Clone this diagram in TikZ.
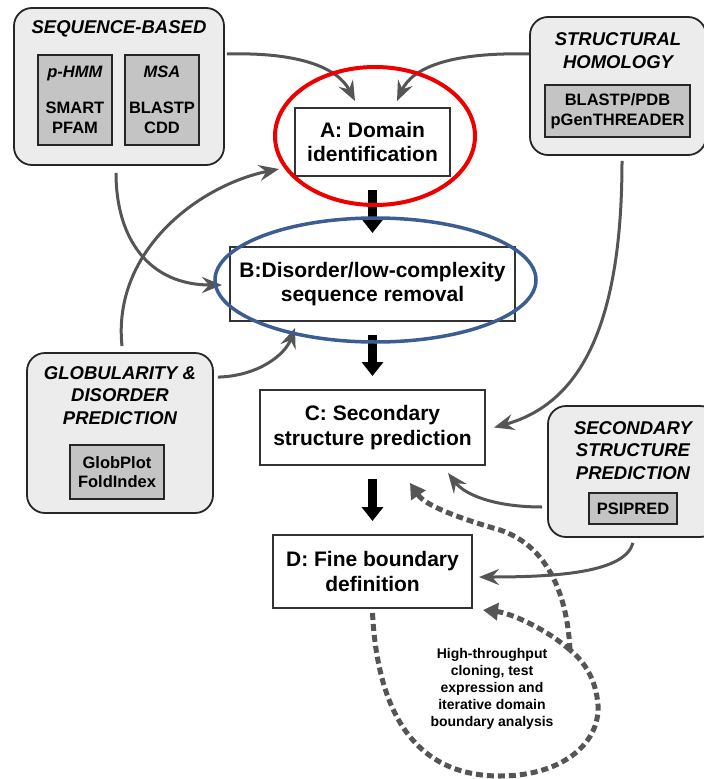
\documentclass[tikz,border=0pt]{standalone}
\usepackage{fontspec}
\setmainfont{Liberation Sans}
\usetikzlibrary{arrows.meta,shapes.geometric,calc}
\definecolor{outerfill}{HTML}{ECECEC}
\definecolor{innerfill}{HTML}{C4C4C4}
\definecolor{arrowgray}{HTML}{555555}
\definecolor{ringred}{HTML}{EE0000}
\definecolor{ringblue}{HTML}{3B5D91}
\begin{document}
\begin{tikzpicture}[x=1pt,y=-1pt,
  groupbox/.style={draw=black!85, line width=1.8pt, fill=outerfill, rounded corners=18pt, inner sep=0pt},
  toolbox/.style={draw=black!85, line width=2pt, fill=innerfill, inner sep=0pt, align=center,
    font=\bfseries\fontsize{16.5}{19.5}\selectfont},
  grouptitle/.style={font=\bfseries\itshape\fontsize{18.5}{22.5}\selectfont, align=center, inner sep=0pt},
  stagebox/.style={draw=black!80, line width=2pt, fill=white, align=center, inner sep=0pt,
    font=\bfseries\fontsize{21}{24.5}\selectfont},
  flowarrow/.style={line width=9pt, -{Triangle[length=14pt,width=21pt]}, shorten <=13pt, shorten >=13pt},
  feedarrow/.style={draw=arrowgray, line width=3pt, -{Stealth[length=20pt,width=16pt,inset=7pt]}},
  dashline/.style={draw=arrowgray, line width=5pt, dash pattern=on 7pt off 4pt},
  dashloop/.style={dashline, -{Triangle[length=15pt,width=17pt]}}
]
\useasboundingbox (0,0) rectangle (704,779);
\clip (0,0) rectangle (704,779);

% group boxes
\node[groupbox, minimum width=210pt, minimum height=157pt] (seq) at (119,86.5) {};
\node[grouptitle] (seqt) at (119,29) {SEQUENCE-BASED};
\node[toolbox, minimum width=74pt, minimum height=90pt] (phmm) at (75,100) {\textit{p-HMM}\\[16.5pt]SMART\\PFAM};
\node[toolbox, minimum width=74pt, minimum height=90pt] (msa) at (162,100) {\textit{MSA}\\[16.5pt]BLASTP\\CDD};

\node[groupbox, minimum width=176pt, minimum height=138pt] (struct) at (618,86) {};
\node[grouptitle] (structt) at (618,50.5) {STRUCTURAL\\HOMOLOGY};
\node[toolbox, minimum width=145pt, minimum height=52pt] (structin) at (617.5,111) {BLASTP/PDB\\pGenTHREADER};

\node[groupbox, minimum width=186pt, minimum height=160pt] (glob) at (120,433) {};
\node[grouptitle] (globt) at (120,395.5) {GLOBULARITY \&\\DISORDER\\PREDICTION};
\node[toolbox, minimum width=94pt, minimum height=54pt] (globin) at (117,472) {GlobPlot\\FoldIndex};

\node[groupbox, minimum width=170pt, minimum height=131pt] (sspred) at (633,471.5) {};
\node[grouptitle] (sspredt) at (633,450.5) {SECONDARY\\STRUCTURE\\PREDICTION};
\node[toolbox, minimum width=88pt, minimum height=31pt] (psipred) at (633,508.5) {PSIPRED};

% stage boxes
\node[stagebox, minimum width=155pt, minimum height=68pt] (A) at (372.5,142) {A: Domain\\identification};
\node[stagebox, minimum width=285pt, minimum height=74pt] (B) at (372.5,284) {B:Disorder/low-complexity\\sequence removal};
\node[stagebox, minimum width=225pt, minimum height=75pt] (C) at (372.5,427.5) {C: Secondary\\structure prediction};
\node[stagebox, minimum width=199pt, minimum height=73pt] (D) at (372.5,571.5) {D: Fine boundary\\definition};

% main flow
\draw[flowarrow] (A) -- (B);
\draw[flowarrow] (B) -- (C);
\draw[flowarrow] (C) -- (D);

% feeding arrows
\draw[feedarrow] ($(seq.east)+(2,-32.5)$) .. controls (300,52) and (338,68) .. ($(A.north)+(-17.5,-6)$);
\draw[feedarrow] ($(struct.west)+(0,-32)$) .. controls (450,52) and (412,68) .. ($(A.north)+(24.5,-6)$);
\draw[feedarrow] ($(seq.south)+(-3,7)$) .. controls (116,240) and (150,285) .. ($(B.west)+(-7,1)$);
\draw[feedarrow] ($(glob.north)+(2,-6)$) .. controls (112,250) and (200,185) .. ($(A.south west)+(-15,-8)$);
\draw[feedarrow] ($(glob.north east)+(4,25)$) .. controls (258,376) and (285,355) .. ($(B.south)+(-77.5,6)$);
\draw[feedarrow] ($(struct.south)+(4,5)$) .. controls (622,335) and (575,405) .. ($(C.east)+(8,0)$);
\draw[feedarrow] ($(sspred.west)+(-5,35.5)$) .. controls (495,507) and (465,495) .. ($(C.south east)+(-38,7)$);
\draw[feedarrow] ($(sspred.south)+(0,5)$) .. controls (625,572) and (560,577) .. ($(D.east)+(6,5.5)$);

% iterative loop
\coordinate (split) at (570,650);
\draw[dashline] ($(D.south)+(0,4)$) .. controls (378,720) and (420,776) .. (500,776)
  .. controls (560,776) and (600,745) .. (598,705) .. controls (596,680) and (585,662) .. (split);
\draw[dashloop] (split) .. controls (567,590) and (545,545) .. (500,530)
  .. controls (455,517) and (425,505) .. ($(C.south)+(37.5,17)$);
\draw[dashloop] (split) .. controls (545,628) and (510,613) .. ($(D.south east)+(10,1)$);
\node[font=\bfseries\fontsize{14}{17}\selectfont, align=center] (note) at (492,689)
  {High-throughput\\cloning, test\\expression and\\iterative domain\\boundary analysis};

% highlight rings
\node[ellipse, draw=ringred, line width=4pt, minimum width=200pt, minimum height=138pt, inner sep=0pt] (ringA) at (375,136) {};
\node[ellipse, draw=ringblue, line width=3.5pt, minimum width=321pt, minimum height=124pt, inner sep=0pt] (ringB) at (375.5,280) {};
\end{tikzpicture}
\end{document}
